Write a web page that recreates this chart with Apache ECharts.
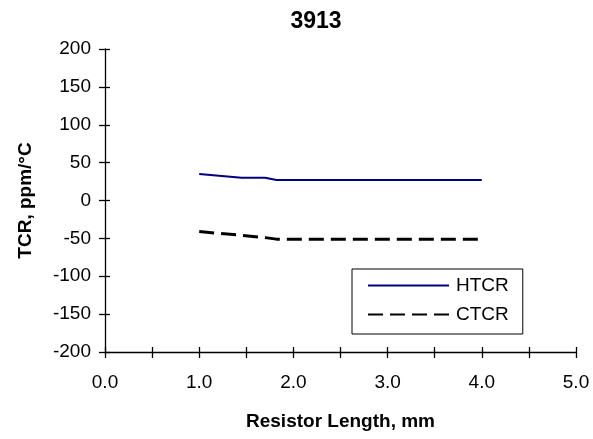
<!DOCTYPE html>
<html><head><meta charset="utf-8">
<script src="https://cdn.jsdelivr.net/npm/echarts@6/dist/echarts.min.js"></script>
<style>html,body{margin:0;padding:0;background:#fff}#c{width:593px;height:439px}</style>
</head><body><div id="c"></div>
<script>
const title = "3913";
const lengths = [1.0, 1.45, 1.7, 1.82, 2.0, 4.0];
const htcr = [35, 30, 30, 27, 27, 27];
const ctcr = [-41, -46, -49, -51, -51, -51];
const seriesNames = ["HTCR", "CTCR"];
const xName = "Resistor Length, mm";
const yName = "TCR, ppm/°C";

const font = "Liberation Sans, Arial, sans-serif";
const chart = echarts.init(document.getElementById('c'), null, {renderer:'canvas'});
const pairs = (xs, ys) => xs.map((x, i) => [x, ys[i]]);
const axLine = {show:true, onZero:false, lineStyle:{color:'#000', width:1.3}};
const tickOut = {show:true, inside:false, length:6, lineStyle:{color:'#000', width:1.3}};
const tickIn = {show:true, inside:true, length:5, lineStyle:{color:'#000', width:1.3}};
const gridBox = {left:105, right:17, top:49, bottom:87};
chart.setOption({
  animation:false,
  backgroundColor:'#fff',
  graphic:[{
    type:'text', x:316, y:10,
    style:{text:title, fontFamily:font, fontSize:23, fontWeight:'bold', fill:'#000', align:'center', verticalAlign:'top'}
  }],
  grid:[Object.assign({}, gridBox), Object.assign({}, gridBox)],
  legend:{
    orient:'vertical', left:352, top:269,
    itemWidth:81, itemHeight:18, itemGap:10,
    padding:[7, 14, 10, 15],
    borderColor:'#000', borderWidth:1,
    itemStyle:{opacity:0},
    textStyle:{fontFamily:font, fontSize:19, lineHeight:18, color:'#000', padding:[0,0,0,2]},
    data:seriesNames
  },
  xAxis:[{
    gridIndex:0, type:'value', min:0, max:5, interval:0.5,
    axisLine:axLine, axisTick:tickOut,
    axisLabel:{fontFamily:font, fontSize:19, color:'#000', margin:21,
      formatter:v => (Math.abs(v - Math.round(v)) < 1e-9 ? v.toFixed(1) : '')},
    splitLine:{show:false},
    name:xName, nameLocation:'middle', nameGap:60,
    nameTextStyle:{fontFamily:font, fontSize:19, fontWeight:'bold', color:'#000'}
  },{
    gridIndex:1, type:'value', min:0, max:5, interval:0.5, position:'bottom',
    axisLine:{show:false, onZero:false}, axisLabel:{show:false}, splitLine:{show:false},
    axisTick:tickIn
  }],
  yAxis:[{
    gridIndex:0, type:'value', min:-200, max:200, interval:50,
    axisLine:axLine, axisTick:tickOut,
    axisLabel:{fontFamily:font, fontSize:19, color:'#000', margin:14},
    splitLine:{show:false},
    name:yName, nameLocation:'middle', nameGap:70,
    nameTextStyle:{fontFamily:font, fontSize:19, fontWeight:'bold', color:'#000'}
  },{
    gridIndex:1, type:'value', min:-200, max:200, interval:50, position:'left',
    axisLine:{show:false, onZero:false}, axisLabel:{show:false}, splitLine:{show:false},
    axisTick:tickIn
  }],
  series:[{
    name:seriesNames[0], type:'line', data:pairs(lengths, htcr),
    xAxisIndex:0, yAxisIndex:0,
    symbol:'none', showSymbol:false,
    lineStyle:{color:'#000080', width:2}, itemStyle:{color:'#000080'}
  },{
    name:seriesNames[1], type:'line', data:pairs(lengths, ctcr),
    xAxisIndex:0, yAxisIndex:0,
    symbol:'none', showSymbol:false,
    lineStyle:{color:'#000', width:3, type:[15,7]}, itemStyle:{color:'#000'}
  }]
});
</script></body></html>
